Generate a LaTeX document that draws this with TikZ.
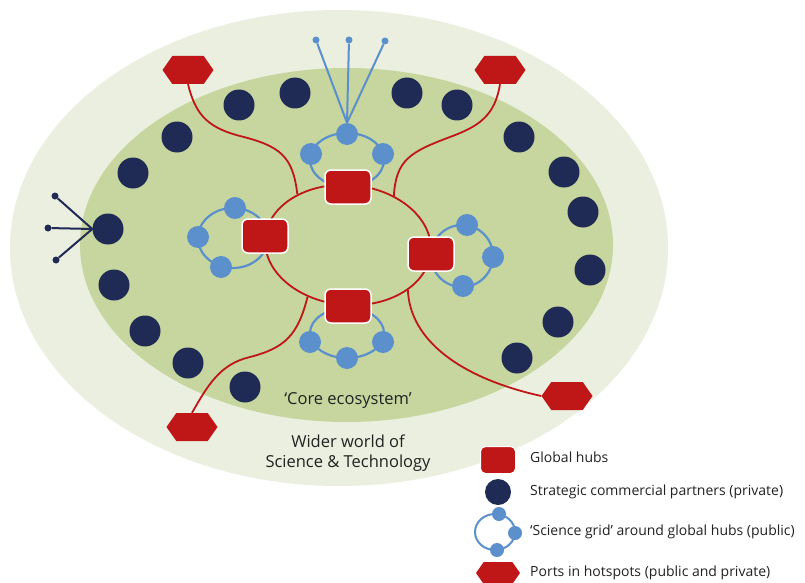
\documentclass[tikz,border=0pt]{standalone}
\usepackage{fontspec}
\setmainfont{Open Sans}
\usetikzlibrary{shapes.geometric,shapes.symbols}
\definecolor{outerbg}{HTML}{EBEFDF}
\definecolor{innerbg}{HTML}{C6D69E}
\definecolor{hubred}{HTML}{BF1717}
\definecolor{navy}{HTML}{1F2A55}
\definecolor{sciblue}{HTML}{5B90CD}
\definecolor{txt}{HTML}{222222}
\begin{document}
\begin{tikzpicture}[x=1pt,y=-1pt,
  bgell/.style={ellipse, inner sep=0pt},
  loopell/.style={ellipse, draw=sciblue, line width=2.2pt, inner sep=0pt},
  gdot/.style={circle, fill=sciblue, inner sep=0pt, minimum size=22pt},
  adot/.style={circle, inner sep=0pt, minimum size=7pt},
  hub/.style={rectangle, rounded corners=6pt, fill=hubred, draw=white, line width=1.5pt, minimum width=46pt, minimum height=34pt, inner sep=0pt},
  partner/.style={circle, fill=navy, inner sep=0pt, minimum size=31pt},
  port/.style={signal, signal to=east and west, signal pointer angle=110, fill=hubred, inner sep=0pt, minimum width=51pt, minimum height=28pt},
  redlink/.style={draw=hubred, line width=1.8pt},
  bluelink/.style={draw=sciblue, line width=2pt},
  navylink/.style={draw=navy, line width=2pt},
  maintext/.style={font=\fontsize{16.5}{20}\selectfont, align=center, text=txt, inner sep=0pt},
  legtext/.style={font=\fontsize{14}{15}\selectfont, anchor=west, text=txt, inner sep=0pt}
]
\useasboundingbox (0,0) rectangle (805,583);
\fill[white] (0,0) rectangle (805,583);

% backgrounds
\node[bgell, fill=outerbg, minimum width=658pt, minimum height=476pt] (world) at (339,248) {};
\node[bgell, fill=innerbg, minimum width=533pt, minimum height=354pt] (core) at (346.5,245) {};

% hub ring
\node[ellipse, draw=hubred, line width=1.8pt, minimum width=166pt, minimum height=120pt, inner sep=0pt, rotate=-5] (ring) at (348,245) {};

% ports
\node[port] (hexTL) at (188,70) {};
\node[port] (hexTR) at (500,70) {};
\node[port] (hexBL) at (192,427) {};
\node[port] (hexBR) at (567,396) {};

% red links
\draw[redlink] (hexTL.south) .. controls (195,112) and (205,127) .. (240,136) .. controls (280,146) and (293,156) .. (ring.140);
\draw[redlink] (hexTR.south) .. controls (495,115) and (480,126) .. (450,137) .. controls (410,152) and (396,160) .. (ring.52);
\draw[redlink] (ring.237) .. controls (298,335) and (285,348) .. (250,357) .. controls (220,364) and (208,385) .. (hexBL.north);
\draw[redlink] (ring.328) .. controls (410,340) and (460,378) .. (hexBR.west);

% science grid loops
\node[loopell, minimum width=74pt, minimum height=54pt] (loopT) at (347,160) {};
\node[loopell, minimum width=70pt, minimum height=60pt] (loopL) at (233,238) {};
\node[loopell, minimum width=62pt, minimum height=62pt] (loopR) at (462,256) {};
\node[loopell, minimum width=74pt, minimum height=50pt] (loopB) at (347,333) {};

% top antenna
\node[adot, fill=sciblue] (dT1) at (316,40) {};
\node[adot, fill=sciblue] (dT2) at (349,40) {};
\node[adot, fill=sciblue] (dT3) at (385,41) {};

% science grid dots
\node[gdot] (gT1) at (347,134) {};
\node[gdot] (gT2) at (311,154) {};
\node[gdot] (gT3) at (383,154) {};
\node[gdot] (gL1) at (235,208) {};
\node[gdot] (gL2) at (198,237) {};
\node[gdot] (gL3) at (221,267) {};
\node[gdot] (gR1) at (467,225) {};
\node[gdot] (gR2) at (493,257) {};
\node[gdot] (gR3) at (463,286) {};
\node[gdot] (gB1) at (310,342) {};
\node[gdot] (gB2) at (347,358) {};
\node[gdot] (gB3) at (383,342) {};

\draw[bluelink] (gT1.north) -- (dT1);
\draw[bluelink] (gT1.north) -- (dT2);
\draw[bluelink] (gT1.north) -- (dT3);

% global hubs
\node[hub] (hubT) at (348,187) {};
\node[hub] (hubL) at (265,236) {};
\node[hub] (hubR) at (431,254) {};
\node[hub] (hubB) at (348,306) {};

% strategic partners
\node[partner] (p1) at (239,105) {};
\node[partner] (p2) at (295,93) {};
\node[partner] (p3) at (177,137) {};
\node[partner] (p4) at (133,173) {};
\node[partner] (p5) at (108,229) {};
\node[partner] (p6) at (114,285) {};
\node[partner] (p7) at (145,331) {};
\node[partner] (p8) at (188,363) {};
\node[partner] (p9) at (245,387) {};
\node[partner] (q1) at (407,93) {};
\node[partner] (q2) at (457,105) {};
\node[partner] (q3) at (519,137) {};
\node[partner] (q4) at (564,172) {};
\node[partner] (q5) at (583,212) {};
\node[partner] (q6) at (590,270) {};
\node[partner] (q7) at (558,322) {};
\node[partner] (q8) at (517,358) {};

% left antenna
\node[adot, fill=navy] (aL1) at (55,196) {};
\node[adot, fill=navy] (aL2) at (48,228) {};
\node[adot, fill=navy] (aL3) at (56,260) {};
\draw[navylink] (p5.west) -- (aL1);
\draw[navylink] (p5.west) -- (aL2);
\draw[navylink] (p5.west) -- (aL3);

% texts
\node[maintext] (coretxt) at (348,401) {‘Core ecosystem’};
\node[maintext] (worldtxt) at (348,453) {Wider world of\\Science \& Technology};

% legend
\node[hub, minimum width=35pt, minimum height=27pt, rounded corners=5pt, line width=1pt] (lhub) at (498,460) {};
\node[partner, minimum size=26pt] (lpartner) at (498,492) {};
\node[loopell, line width=2pt, minimum width=40pt, minimum height=36pt] (lloop) at (495,532) {};
\node[circle, fill=sciblue, inner sep=0pt, minimum size=14pt] (ld1) at (499,514) {};
\node[circle, fill=sciblue, inner sep=0pt, minimum size=14pt] (ld2) at (515,533) {};
\node[circle, fill=sciblue, inner sep=0pt, minimum size=14pt] (ld3) at (497,550) {};
\node[port, minimum width=44pt, minimum height=22pt] (lport) at (498,573) {};

\node[legtext] (t1) at (530,457) {Global hubs};
\node[legtext] (t2) at (530,492) {Strategic commercial partners (private)};
\node[legtext] (t3) at (530,532) {‘Science grid’ around global hubs (public)};
\node[legtext] (t4) at (530,573) {Ports in hotspots (public and private)};
\end{tikzpicture}
\end{document}
